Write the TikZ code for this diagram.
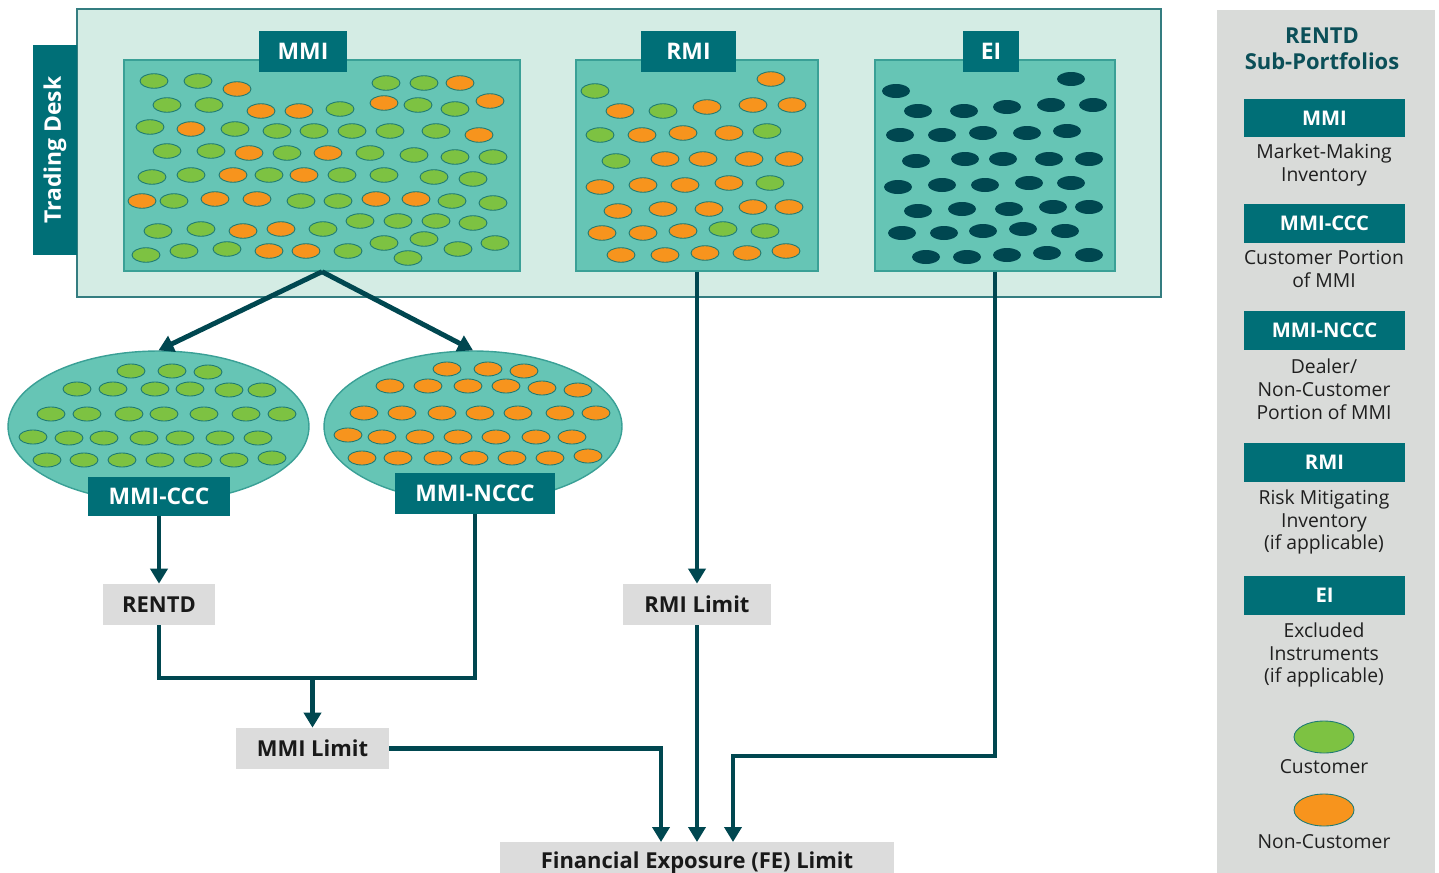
\documentclass[tikz,border=0pt]{standalone}
\usepackage{fontspec}
\setmainfont{Open Sans}
\usetikzlibrary{arrows.meta,shapes.geometric}

\definecolor{rentd_hell}{RGB}{212,236,228}
\definecolor{rentd_hellrand}{RGB}{52,125,128}
\definecolor{rentd_kasten}{RGB}{102,197,181}
\definecolor{rentd_rand}{RGB}{58,160,150}
\definecolor{rentd_teal}{RGB}{0,111,119}
\definecolor{rentd_dunkel}{RGB}{0,71,80}
\definecolor{rentd_punktrand}{RGB}{30,122,116}
\definecolor{rentd_gruen}{RGB}{125,194,66}
\definecolor{rentd_orange}{RGB}{247,148,29}
\definecolor{rentd_grau}{RGB}{220,220,220}
\definecolor{rentd_panel}{RGB}{217,219,217}
\definecolor{rentd_titel}{RGB}{11,79,88}

\begin{document}
\begin{tikzpicture}[
      x=0.02cm, y=-0.02cm,
      kasten/.style={
        draw=rentd_rand,
        fill=rentd_kasten,
        line width=0.8pt,
        inner sep=0pt
      },
      etikett/.style={
        fill=rentd_teal,
        text=white,
        inner sep=0pt,
        minimum height=0.82cm,
        font=\bfseries\fontsize{13}{15}\selectfont
      },
      legende/.style={
        etikett,
        minimum width=3.22cm,
        minimum height=0.78cm,
        font=\bfseries\fontsize{11.5}{14}\selectfont
      },
      grenze/.style={
        fill=rentd_grau,
        text=black!90,
        inner sep=0pt,
        minimum height=0.82cm,
        font=\bfseries\fontsize{12.5}{15}\selectfont
      },
      erklaerung/.style={
        align=center,
        inner sep=0pt,
        text=black!88,
        font=\fontsize{11}{13}\selectfont
      },
      kunde/.style={draw=rentd_punktrand, fill=rentd_gruen, line width=0.5pt},
      nichtkunde/.style={draw=rentd_punktrand, fill=rentd_orange, line width=0.5pt},
      ausgenommen/.style={fill=rentd_dunkel},
      linie/.style={draw=rentd_dunkel, line width=2.8pt},
      pfeil/.style={linie, -{Triangle[width=0.34cm,length=0.3cm]}}
    ]
      \useasboundingbox (0,0) rectangle (1439,872);

      % Trading Desk
      \draw [draw=rentd_hellrand, fill=rentd_hell, line width=0.8pt] (77,9) rectangle (1161,297);
      \node [etikett, rotate=90, minimum width=4.2cm, minimum height=0.88cm] (desk) at (55,150) {Trading Desk};

      % Kaesten
      \node [kasten, minimum width=7.92cm, minimum height=4.22cm] (mmi) at (322,165.5) {};
      \node [kasten, minimum width=4.84cm, minimum height=4.22cm] (rmi) at (697,165.5) {};
      \node [kasten, minimum width=4.80cm, minimum height=4.22cm] (ei) at (995,165.5) {};

      % Punkte MMI
      \foreach \x/\y in {154/81, 198/81, 386/83, 424/83,
                         167/105, 209/105, 340/109, 418/105, 455/109,
                         150/127, 235/129, 277/131, 314/131, 352/131, 390/131, 436/131,
                         167/151, 211/151, 287/153, 370/153, 414/155, 455/157, 493/157,
                         152/177, 191/175, 269/175, 342/175, 384/175, 434/177, 473/179,
                         174/201, 301/201, 338/201, 452/201, 493/203,
                         158/231, 201/229, 323/229, 360/221, 398/221, 436/221, 473/223,
                         146/255, 184/251, 227/249, 348/251, 384/243, 424/239, 408/258, 458/249, 495/243}
        \draw [kunde] (\x,\y) ellipse (0.28cm and 0.145cm);
      \foreach \x/\y in {237/89, 460/83, 261/111, 299/111, 384/103, 490/101,
                         191/129, 479/135, 249/153, 328/153, 233/175, 304/175,
                         142/201, 215/199, 257/199, 376/199, 416/199,
                         243/231, 281/229, 269/251, 306/251}
        \draw [nichtkunde] (\x,\y) ellipse (0.28cm and 0.145cm);

      % Punkte RMI
      \foreach \x/\y in {595/91, 663/111, 600/135, 767/131, 616/161, 770/183, 723/229, 765/231}
        \draw [kunde] (\x,\y) ellipse (0.28cm and 0.145cm);
      \foreach \x/\y in {771/79, 620/111, 707/107, 753/105, 792/105,
                         642/135, 683/133, 729/133, 665/159, 703/159, 749/159, 789/159,
                         600/187, 643/185, 685/185, 729/183,
                         618/211, 663/209, 709/209, 753/207, 789/207,
                         602/233, 643/233, 683/231,
                         621/255, 665/255, 705/253, 747/253, 786/251}
        \draw [nichtkunde] (\x,\y) ellipse (0.28cm and 0.145cm);

      % Punkte EI
      \foreach \x/\y in {1071/79, 896/91, 918/111, 964/111, 1007/107, 1051/105, 1093/105,
                         900/135, 942/135, 983/133, 1027/133, 1067/131,
                         916/161, 965/159, 1003/159, 1049/159, 1089/159,
                         898/187, 942/185, 985/185, 1029/183, 1071/183,
                         918/211, 962/209, 1009/209, 1053/207, 1089/207,
                         902/233, 944/233, 983/231, 1023/229, 1065/231,
                         926/257, 967/257, 1007/255, 1047/253, 1089/255}
        \fill [ausgenommen] (\x,\y) ellipse (0.28cm and 0.14cm);

      \node [etikett, minimum width=1.76cm] (mmilab) at (303,51.5) {MMI};
      \node [etikett, minimum width=1.90cm] (rmilab) at (688.5,51.5) {RMI};
      \node [etikett, minimum width=1.12cm] (eilab) at (991,51.5) {EI};

      % Ellipsen
      \node [ellipse, kasten, minimum width=6.02cm, minimum height=3.02cm] (ccc) at (158.5,426.5) {};
      \node [ellipse, kasten, minimum width=5.96cm, minimum height=3.02cm] (nccc) at (473,426.5) {};
      \foreach \x/\y in {131/371, 172/371, 208/372,
                         77/389, 113/389, 155/389, 190/389, 229/390, 262/390,
                         51/414, 87/414, 129/414, 164/414, 204/414, 246/414, 282/414,
                         33/437, 69/438, 104/438, 144/438, 180/438, 220/438, 258/438,
                         47/460, 84/460, 122/460, 160/460, 198/460, 234/460, 272/458}
        \draw [kunde] (\x,\y) ellipse (0.28cm and 0.14cm);
      \foreach \x/\y in {447/369, 488/369, 524/371,
                         390/386, 428/386, 468/386, 506/386, 542/388, 578/390,
                         364/413, 402/413, 442/413, 480/413, 518/413, 560/413, 596/413,
                         348/435, 382/437, 420/437, 458/437, 496/437, 536/437, 572/437,
                         362/458, 398/458, 438/458, 474/458, 512/458, 550/458, 588/456}
        \draw [nichtkunde] (\x,\y) ellipse (0.28cm and 0.14cm);
      \node [etikett, minimum width=2.84cm, minimum height=0.78cm] (cccl) at (159,496.5) {MMI-CCC};
      \node [etikett, minimum width=3.20cm] (ncccl) at (475,493.5) {MMI-NCCC};

      % Limits
      \node [grenze, minimum width=2.26cm] (rentd) at (159,604.5) {RENTD};
      \node [grenze, minimum width=2.98cm] (rmilim) at (697,604.5) {RMI Limit};
      \node [grenze, minimum width=3.06cm] (mmilim) at (312.5,748.5) {MMI Limit};
      \node [grenze, minimum width=7.9cm, anchor=north] (fe) at (697,842) {Financial Exposure (FE) Limit};

      % Pfeile
      \coordinate (knoten) at (312.5,678);
      \coordinate (eiknick) at (995,756);
      \draw [pfeil] (mmi.south) -- (ccc.north);
      \draw [pfeil] (mmi.south) -- (nccc.north);
      \draw [pfeil] (cccl.south) -- (rentd.north);
      \draw [linie] (rentd.south) |- (knoten) -| (ncccl.south);
      \draw [pfeil] (knoten) -- (mmilim.north);
      \draw [pfeil] (rmi.south) -- (rmilim.north);
      \draw [pfeil] (rmilim.south) -- (fe.north);
      \draw [pfeil] (mmilim.east) -| ([xshift=-0.72cm]fe.north);
      \draw [pfeil] (ei.south) -- (eiknick) -| ([xshift=0.72cm]fe.north);

      % Legende
      \fill [rentd_panel] (1217,10) rectangle (1435,880);
      \node [align=center, inner sep=0pt, text=rentd_titel, font=\bfseries\fontsize{12.5}{15}\selectfont] (titel) at (1322,49) {RENTD\\Sub-Portfolios};
      \node [legende] (lmmi) at (1324.5,118) {MMI};
      \node [erklaerung] (tmmi) at (1324,165) {Market-Making\\Inventory};
      \node [legende] (lccc) at (1324.5,223.5) {MMI-CCC};
      \node [erklaerung] (tccc) at (1324,269) {Customer Portion\\of MMI};
      \node [legende] (lnccc) at (1324.5,330.5) {MMI-NCCC};
      \node [erklaerung] (tnccc) at (1324,389.5) {Dealer/\\Non-Customer\\Portion of MMI};
      \node [legende] (lrmi) at (1324.5,462.5) {RMI};
      \node [erklaerung] (trmi) at (1324,522) {Risk Mitigating\\Inventory\\(if applicable)};
      \node [legende] (lei) at (1324.5,595.5) {EI};
      \node [erklaerung] (tei) at (1324,655) {Excluded\\Instruments\\(if applicable)};
      \draw [kunde] (1324,737) ellipse (0.6cm and 0.32cm);
      \node [erklaerung] (tkunde) at (1324,767) {Customer};
      \draw [nichtkunde] (1324,810) ellipse (0.6cm and 0.32cm);
      \node [erklaerung] (tnicht) at (1324,842) {Non-Customer};
    \end{tikzpicture}
\end{document}
